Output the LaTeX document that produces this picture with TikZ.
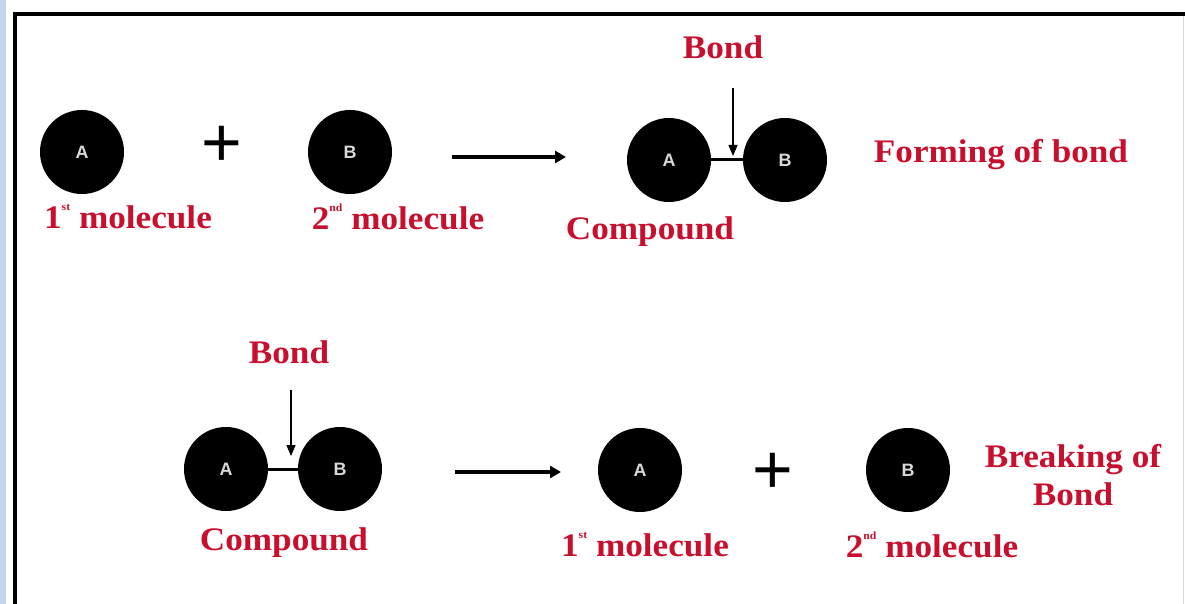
\documentclass[tikz,border=0pt]{standalone}
\usepackage{fontspec}
\setmainfont{Liberation Serif}
\newfontfamily\lsans{Liberation Sans}
\newfontfamily\lblfont[FakeStretch=1.07]{Liberation Serif}
\usetikzlibrary{arrows.meta}
\definecolor{lblred}{RGB}{200,16,46}
\definecolor{edgeblue}{RGB}{195,212,235}
\newcommand{\tinysup}[1]{\raisebox{0.55em}{\fontsize{11}{11}\selectfont #1}}
\tikzset{
 mol/.style={circle, fill=black, minimum size=84bp, inner sep=0pt, text=white!85!black, font=\lsans\bfseries\fontsize{18}{18}\selectfont},
 lbl/.style={text=lblred, font=\lblfont\bfseries\fontsize{33}{38}\selectfont, inner sep=0pt, align=center},
 react/.style={line width=3.5bp, -{Triangle[length=11bp,width=12bp]}},
 bondarrow/.style={line width=1.3bp, -{Triangle[length=11bp,width=9bp]}},
 bondline/.style={line width=3bp},
 plus/.style={font=\lsans\fontsize{70}{70}\selectfont, inner sep=0pt}
}
\begin{document}
\begin{tikzpicture}[x=1bp,y=-1bp]
\useasboundingbox (0,0) rectangle (1185,604);
\fill[white] (0,0) rectangle (1185,604);
\fill[edgeblue] (0,0) rectangle (6,604);
\draw[line width=4bp] (1185,14) -- (15,14) -- (15,604);
\draw[gray!30, line width=1bp] (1183,16) -- (1183,604);
% top row
\node[mol] (a1) at (82,152) {A};
\node[plus] (p1) at (222,146) {+};
\node[mol] (b1) at (350,152) {B};
\node[lbl] (m1) at (128,217) {1\tinysup{st} molecule};
\node[lbl] (m2) at (398,217) {2\tinysup{nd} molecule};
\coordinate (r1s) at (452,157);
\coordinate (r1e) at (566,157);
\draw[react] (r1s) -- (r1e);
\node[mol] (ca) at (669,160) {A};
\node[mol] (cb) at (785,160) {B};
\draw[bondline] (ca.east) -- (cb.west);
\node[lbl] (bond1) at (723,47) {Bond};
\coordinate (b1s) at (733,88);
\coordinate (b1e) at (733,156);
\draw[bondarrow] (b1s) -- (b1e);
\node[lbl] (comp1) at (650,232) {Compound};
\node[lbl] (form) at (1001,155) {Forming of bond};
% bottom row
\node[mol] (da) at (226,469) {A};
\node[mol] (db) at (340,469) {B};
\draw[bondline] (da.east) -- (db.west);
\node[lbl] (bond2) at (289,352) {Bond};
\coordinate (b2s) at (291,390);
\coordinate (b2e) at (291,456);
\draw[bondarrow] (b2s) -- (b2e);
\node[lbl] (comp2) at (284,543) {Compound};
\coordinate (r2s) at (455,472);
\coordinate (r2e) at (561,472);
\draw[react] (r2s) -- (r2e);
\node[mol] (ea) at (640,470) {A};
\node[plus] (p2) at (773,473) {+};
\node[mol] (eb) at (908,470) {B};
\node[lbl] (m3) at (645,545) {1\tinysup{st} molecule};
\node[lbl] (m4) at (932,545) {2\tinysup{nd} molecule};
\node[lbl] (brk) at (1073,475) {Breaking of\\Bond};
\end{tikzpicture}
\end{document}
